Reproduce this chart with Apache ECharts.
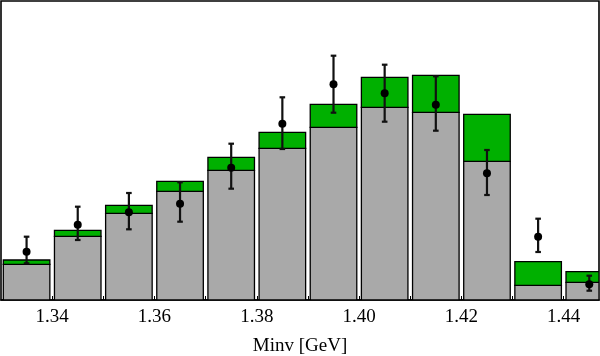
<!DOCTYPE html>
<html>
<head>
<meta charset="utf-8">
<style>html,body{margin:0;padding:0;background:#fff;}#c{width:600px;height:356px;}</style>
<script src="https://cdn.jsdelivr.net/npm/echarts@6/dist/echarts.min.js"></script>
</head>
<body>
<div id="c"></div>
<script>
// Bin centers (GeV)
var binCenters = [1.335, 1.345, 1.355, 1.365, 1.375, 1.385, 1.395, 1.405, 1.415, 1.425, 1.435, 1.445];
// Gray (background) component heights (arbitrary units)
var grayValues = [35.7, 63.7, 86.7, 108.7, 129.7, 151.7, 172.7, 192.7, 187.7, 138.7, 14.7, 17.7];
// Green component stacked on top of gray
var greenValues = [4.3, 6.0, 8.0, 10.0, 13.0, 16.0, 23.0, 30.0, 37.0, 47.0, 23.6, 10.6];
// Data points and error bar limits
var dataValues = [48.3, 75.3, 87.7, 96.3, 132.3, 176.3, 215.7, 206.7, 195.3, 126.7, 63.3, 15.7];
var errHigh = [63.3, 93.3, 107.0, 117.7, 156.3, 202.7, 244.3, 235.3, 223.7, 150.0, 81.3, 24.3];
var errLow = [36.7, 60.0, 70.7, 78.3, 111.3, 151.0, 187.3, 178.3, 169.3, 105.0, 48.0, 9.3];
var binWidth = 0.01;

var chart = echarts.init(document.getElementById('c'), null, {renderer: 'canvas'});

var barData = binCenters.map(function (x, i) {
  return [x, grayValues[i], grayValues[i] + greenValues[i]];
});
var errData = binCenters.map(function (x, i) {
  return [x, errLow[i], errHigh[i]];
});
var ptData = binCenters.map(function (x, i) { return [x, dataValues[i]]; });

var halfW = binWidth * 0.455;

function renderBars(params, api) {
  var x = api.value(0), g = api.value(1), t = api.value(2);
  var p0 = api.coord([x - halfW, 0]);
  var p1 = api.coord([x + halfW, g]);
  var p2 = api.coord([x + halfW, t]);
  var cs = params.coordSys;
  var clip = {x: cs.x, y: cs.y, width: cs.width, height: cs.height};
  var w = p1[0] - p0[0];
  return {
    type: 'group',
    children: [
      {type: 'rect', shape: echarts.graphic.clipRectByRect({x: p0[0], y: p1[1], width: w, height: p0[1] - p1[1]}, clip),
        style: {fill: '#a9a9a9', stroke: '#000', lineWidth: 1.3}},
      {type: 'rect', shape: echarts.graphic.clipRectByRect({x: p0[0], y: p2[1], width: w, height: p1[1] - p2[1]}, clip),
        style: {fill: '#00b000', stroke: '#000', lineWidth: 1.3}}
    ]
  };
}

function renderErr(params, api) {
  var x = api.value(0);
  var lo = api.coord([x, api.value(1)]);
  var hi = api.coord([x, api.value(2)]);
  var cw = 2.8;
  var st = {stroke: '#111', lineWidth: 2.2};
  return {
    type: 'group',
    children: [
      {type: 'line', shape: {x1: lo[0], y1: lo[1], x2: hi[0], y2: hi[1]}, style: st},
      {type: 'line', shape: {x1: lo[0] - cw, y1: lo[1], x2: lo[0] + cw, y2: lo[1]}, style: st},
      {type: 'line', shape: {x1: hi[0] - cw, y1: hi[1], x2: hi[0] + cw, y2: hi[1]}, style: st}
    ]
  };
}

var option = {
  animation: false,
  backgroundColor: '#fff',
  grid: {left: 1, right: 1, top: 1, bottom: 56, containLabel: false, outerBoundsMode: 'none',
    show: true, borderColor: '#000', borderWidth: 1.6, backgroundColor: 'transparent'},
  xAxis: {
    type: 'value',
    min: 1.33,
    max: 1.4469,
    interval: 0.005,
    name: 'Minv [GeV]',
    nameLocation: 'middle',
    nameGap: 37,
    nameTextStyle: {fontFamily: 'Liberation Serif', fontSize: 19, color: '#000'},
    axisLine: {show: true, onZero: false, lineStyle: {color: '#000', width: 1.6}},
    axisTick: {show: true, inside: true, length: 4, lineStyle: {color: '#000', width: 1}},
    splitLine: {show: false},
    axisLabel: {
      showMinLabel: false, showMaxLabel: false,
      margin: 8,
      fontFamily: 'Liberation Serif', fontSize: 19, color: '#000',
      formatter: function (v) {
        var k = v * 50;
        if (Math.abs(k - Math.round(k)) < 1e-6) return v.toFixed(2);
        return '';
      }
    }
  },
  yAxis: {
    type: 'value', min: 0, max: 299, show: false,
    splitLine: {show: false}
  },
  series: [
    {type: 'custom', renderItem: renderBars, data: barData, clip: true, z: 1,
      encode: {x: 0, y: [1, 2]}},
    {type: 'custom', renderItem: renderErr, data: errData, clip: true, z: 3,
      encode: {x: 0, y: [1, 2]}},
    {type: 'scatter', data: ptData, symbol: 'circle', symbolSize: 8, z: 4,
      itemStyle: {color: '#000', opacity: 1}}
  ]
};
chart.setOption(option);
</script>
</body>
</html>
